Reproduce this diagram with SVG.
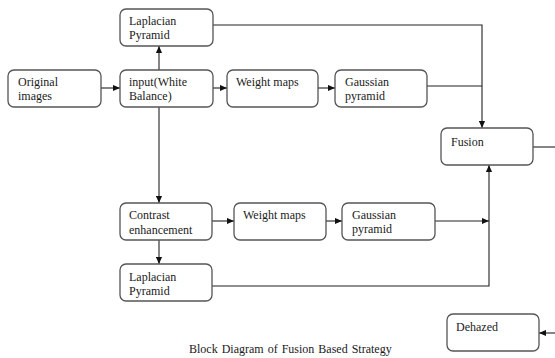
<svg xmlns="http://www.w3.org/2000/svg" width="555" height="358" viewBox="0 0 555 358">
<defs>
<style>
.box{fill:#fff;stroke:#555;stroke-width:1.3}
.t{font-family:"Liberation Serif","Times New Roman",serif;font-size:12px;fill:#1a1a1a}
.c{fill:none;stroke:#222;stroke-width:1.1}
</style>
<marker id="ah" viewBox="0 0 8 8" refX="8" refY="4" markerWidth="7" markerHeight="7" markerUnits="userSpaceOnUse" orient="auto">
<path d="M0,0.5 L8,4 L0,7.5 Z" fill="#111"/>
</marker>
</defs>
<rect width="555" height="358" fill="#fff"/>
<g id="connectors">
<path class="c" d="M101,88 H120" marker-end="url(#ah)"/>
<path class="c" d="M159,70 V46" marker-end="url(#ah)"/>
<path class="c" d="M213,88 H227" marker-end="url(#ah)"/>
<path class="c" d="M318,88 H335" marker-end="url(#ah)"/>
<path class="c" d="M213,25 H482 V128" marker-end="url(#ah)"/>
<path class="c" d="M427,86 H482"/>
<path class="c" d="M159,107 V203" marker-end="url(#ah)"/>
<path class="c" d="M212,221 H234" marker-end="url(#ah)"/>
<path class="c" d="M326,221 H342" marker-end="url(#ah)"/>
<path class="c" d="M435,221 H489" marker-end="url(#ah)"/>
<path class="c" d="M159,240 V264" marker-end="url(#ah)"/>
<path class="c" d="M212,286 H489 V165" marker-end="url(#ah)"/>
<path class="c" d="M533,147 H555"/>
<path class="c" d="M555,333 H539" marker-end="url(#ah)"/>
</g>
<g id="original">
<rect class="box" x="8" y="70" width="93" height="37" rx="6"/>
<text class="t" x="18" y="86">Original</text>
<text class="t" x="18" y="100">images</text>
</g>
<g id="input">
<rect class="box" x="120" y="70" width="93" height="37" rx="6"/>
<text class="t" x="129" y="86">input(White</text>
<text class="t" x="129" y="100">Balance)</text>
</g>
<g id="laplacian-top">
<rect class="box" x="120" y="9" width="93" height="37" rx="6"/>
<text class="t" x="129" y="25">Laplacian</text>
<text class="t" x="129" y="39">Pyramid</text>
</g>
<g id="weight-top">
<rect class="box" x="227" y="70" width="91" height="37" rx="6"/>
<text class="t" x="236" y="86">Weight maps</text>
</g>
<g id="gaussian-top">
<rect class="box" x="335" y="70" width="92" height="37" rx="6"/>
<text class="t" x="345" y="86">Gaussian</text>
<text class="t" x="345" y="100">pyramid</text>
</g>
<g id="fusion">
<rect class="box" x="441" y="128" width="92" height="37" rx="6"/>
<text class="t" x="451" y="146">Fusion</text>
</g>
<g id="contrast">
<rect class="box" x="120" y="203" width="92" height="37" rx="6"/>
<text class="t" x="129" y="219">Contrast</text>
<text class="t" x="129" y="234">enhancement</text>
</g>
<g id="weight-bottom">
<rect class="box" x="234" y="203" width="92" height="37" rx="6"/>
<text class="t" x="243" y="219">Weight maps</text>
</g>
<g id="gaussian-bottom">
<rect class="box" x="342" y="203" width="93" height="37" rx="6"/>
<text class="t" x="352" y="219">Gaussian</text>
<text class="t" x="352" y="233">pyramid</text>
</g>
<g id="laplacian-bottom">
<rect class="box" x="120" y="264" width="92" height="37" rx="6"/>
<text class="t" x="129" y="281">Laplacian</text>
<text class="t" x="129" y="295">Pyramid</text>
</g>
<g id="dehazed">
<rect class="box" x="447" y="314" width="92" height="37" rx="6"/>
<text class="t" x="456" y="331">Dehazed</text>
</g>
<text class="t" x="189" y="353" style="word-spacing:1px">Block Diagram of Fusion Based Strategy</text>
</svg>
